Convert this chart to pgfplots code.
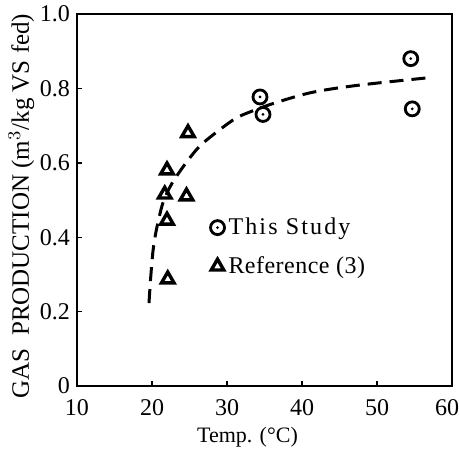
\documentclass[border=0pt]{standalone}
\usepackage{fontspec}
\setmainfont{Liberation Serif}
\usepackage{pgfplots}
\pgfplotsset{compat=1.18}

% circle with a dot in the middle
\pgfdeclareplotmark{odot}{%
  \pgfpathcircle{\pgfpointorigin}{\pgfplotmarksize}\pgfusepathqstroke
  \pgfpathcircle{\pgfpointorigin}{0.22\pgfplotmarksize}\pgfusepathqfill}

\begin{document}
\begin{tikzpicture}
  \begin{axis}[
    name=ax,
    width=187.5pt, height=186pt,
    scale only axis,
    xmin=10, xmax=60, ymin=0, ymax=1.0,
    xtick={10,20,30,40,50,60},
    xticklabels={10,20,30,40,50,60\hspace*{5pt}},
    ytick={0,0.2,0.4,0.6,0.8,1.0},
    yticklabels={0,0.2,0.4,0.6,0.8,1.0},
    tick align=inside,
    xtick pos=bottom, ytick pos=left,
    major tick length=2.5pt,
    axis line style={line width=0.8pt},
    tick style={line width=0.7pt, black},
    tick label style={font=\fontsize{12}{14}\selectfont},
    xticklabel style={yshift=-3pt},
    xlabel={Temp. (°C)},
    ylabel={GAS\ \ PRODUCTION (m$^3$/kg VS fed)},
    xlabel style={font=\fontsize{11}{13}\selectfont, yshift=1pt, xshift=-8.5pt},
    ylabel style={font=\fontsize{12.5}{14}\selectfont, yshift=-4pt, xshift=-3pt},
    legend style={draw=none, fill=none, at={(0.355,0.464)}, anchor=north west,
      font=\fontsize{12}{14}\selectfont, row sep=5.5pt, inner sep=0pt},
    legend cell align=left,
    legend image code/.code={\draw[#1] plot coordinates {(0.12cm,0cm)};},
  ]
    \addplot[only marks, mark=odot, mark size=3.5pt, line width=1.4pt] coordinates {
      (34.4,0.777) (34.8,0.730) (54.5,0.880) (54.7,0.745)
    };
    \addlegendentry{{\addfontfeature{LetterSpace=9}This Study}}
    \addplot[only marks, mark=triangle, mark size=3.6pt, line width=1.7pt] coordinates {
      (24.8,0.680) (22.0,0.580) (21.7,0.515) (24.6,0.510) (22.0,0.445) (22.1,0.287)
    };
    \addlegendentry{{\addfontfeature{LetterSpace=2}Reference (3)}}
    \addplot[smooth, line width=1.5pt, dash pattern=on 7pt off 4pt, forget plot] coordinates {
      (19.6,0.223) (19.8,0.285) (20.1,0.357) (20.4,0.400) (20.8,0.440)
      (21.5,0.495) (22.7,0.546) (24.8,0.607) (26.8,0.653) (30.8,0.715)
      (33.1,0.737) (36.7,0.763) (41.5,0.790) (47.7,0.809) (57.5,0.830)
    };
  \end{axis}
  \path (ax.south west) ++(-38.5pt,-35pt) coordinate (bl);
  \path (ax.north east) ++(4pt,7pt) coordinate (tr);
  \pgfresetboundingbox
  \path (bl) rectangle (tr);
\end{tikzpicture}
\end{document}
